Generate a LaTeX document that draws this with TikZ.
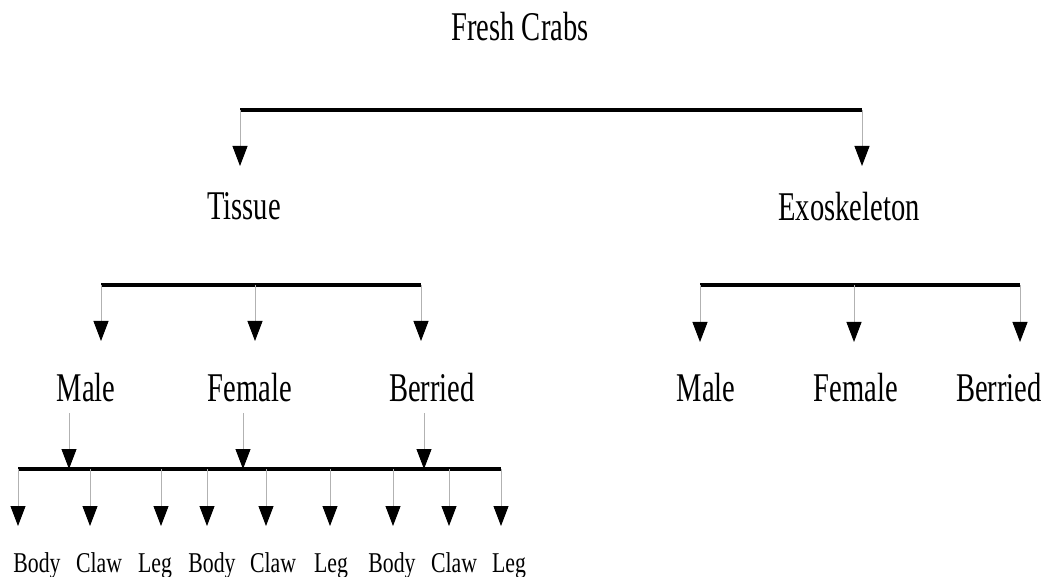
\documentclass[tikz,border=0pt]{standalone}
\usepackage{fontspec}
\usetikzlibrary{arrows.meta}
\newfontfamily\mainlbl{Liberation Serif}[FakeStretch=0.7]
\newfontfamily\smalllbl{Liberation Serif}[FakeStretch=0.76]
\tikzset{
  lbl/.style={inner sep=0pt, anchor=base, font=\mainlbl\fontsize{30.6}{36}\selectfont},
  sublbl/.style={inner sep=0pt, anchor=base, font=\smalllbl\fontsize{21.5}{26}\selectfont},
  bar/.style={line width=2.3pt, black},
  conn/.style={line width=0.7pt, draw=black!30, -{Triangle[width=11.25pt,length=15pt,color=black]}}
}
\begin{document}
\begin{tikzpicture}[x=0.75pt,y=-0.75pt]
\useasboundingbox (0,0) rectangle (1050,577);
% labels
\node[lbl] (fresh) at (520,41) {Fresh Crabs};
\node[lbl] (tissue) at (244,220) {Tissue};
\node[lbl] (exo) at (849,221) {Exoskeleton};
\node[lbl] (tmale) at (86,402) {Male};
\node[lbl] (tfemale) at (250,402) {Female};
\node[lbl] (tberried) at (432,402) {Berried};
\node[lbl] (emale) at (706,402) {Male};
\node[lbl] (efemale) at (856,402) {Female};
\node[lbl] (eberried) at (999,402) {Berried};
\foreach \n/\x/\t in {b1/37/Body,c1/99/Claw,l1/155/Leg,b2/212/Body,c2/273/Claw,l2/331/Leg,b3/392/Body,c3/454/Claw,l3/509/Leg}
  \node[sublbl] (\n) at (\x,572) {\t};
% bar 1
\coordinate (b1L) at (240,110); \coordinate (b1R) at (862,110);
\coordinate (tTissue) at (240,166); \coordinate (tExo) at (862,166);
\draw[bar] (b1L) -- (b1R);
\draw[conn] (b1L) -- (tTissue);
\draw[conn] (b1R) -- (tExo);
% bar 2 (tissue)
\coordinate (b2L) at (101,285); \coordinate (b2M) at (255,285); \coordinate (b2R) at (421,285);
\coordinate (a2L) at (101,341); \coordinate (a2M) at (255,341); \coordinate (a2R) at (421,341);
\draw[bar] (b2L) -- (b2R);
\draw[conn] (b2L) -- (a2L);
\draw[conn] (b2M) -- (a2M);
\draw[conn] (b2R) -- (a2R);
% bar 3 (exoskeleton)
\coordinate (b3L) at (700,285); \coordinate (b3M) at (854,285); \coordinate (b3R) at (1020,285);
\coordinate (a3L) at (700,342); \coordinate (a3M) at (854,342); \coordinate (a3R) at (1020,342);
\draw[bar] (b3L) -- (b3R);
\draw[conn] (b3L) -- (a3L);
\draw[conn] (b3M) -- (a3M);
\draw[conn] (b3R) -- (a3R);
% bar 4 (tissue parts)
\coordinate (b4L) at (18,469); \coordinate (b4R) at (501,469);
\draw[bar] (b4L) -- (b4R);
\foreach \n/\x in {m/69,f/243,b/424}{
  \coordinate (s\n) at (\x,413);
  \coordinate (e\n) at (\x,469);
  \draw[conn] (s\n) -- (e\n);
}
\foreach \n/\x in {1/18,2/90,3/161,4/207,5/266,6/330,7/393,8/449,9/501}{
  \coordinate (p\n) at (\x,469);
  \coordinate (q\n) at (\x,526);
  \draw[conn] (p\n) -- (q\n);
}
\end{tikzpicture}
\end{document}
